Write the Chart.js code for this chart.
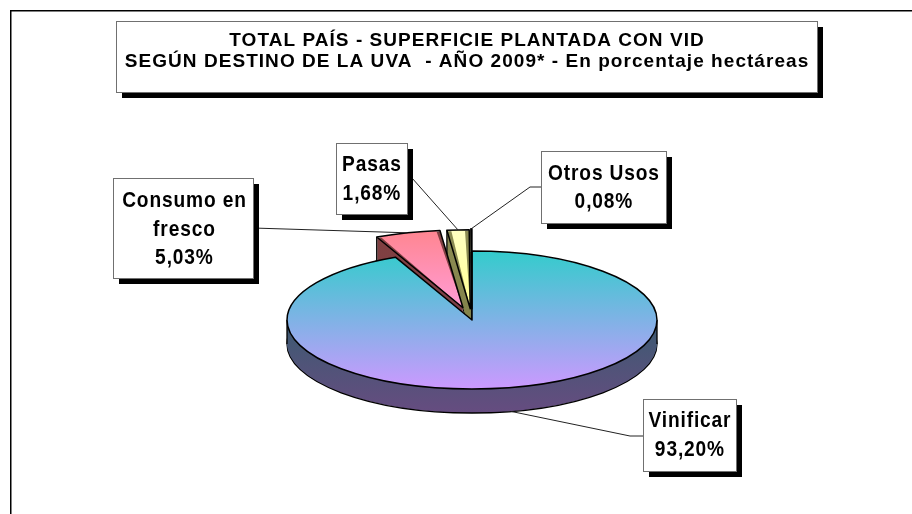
<!DOCTYPE html>
<html>
<head>
<meta charset="utf-8">
<script src="https://cdn.jsdelivr.net/npm/chart.js@4.4.1/dist/chart.umd.min.js"></script>
<style>
  html, body { margin: 0; padding: 0; background: #fff; }
  #wrap { position: relative; width: 912px; height: 514px; }
</style>
</head>
<body>
<div id="wrap"><canvas id="canvas" width="912" height="514"></canvas></div>
<script>
'use strict'

// data
const titleLines = ['TOTAL PAÍS - SUPERFICIE PLANTADA CON VID', 'SEGÚN DESTINO DE LA UVA  - AÑO 2009* - En porcentaje hectáreas']
const categories = ['Vinificar', 'Consumo en fresco', 'Pasas', 'Otros Usos']
const labelNames = [['Vinificar'], ['Consumo en', 'fresco'], ['Pasas'], ['Otros Usos']]
const shares = [93.20, 5.03, 1.68, 0.08]

const FONT = '"Liberation Sans", Arial, sans-serif'
const SQUASH = 69 / 185 // vertical tilt of the pie
const DEPTH = 24
const faceStops = [['#33CCCC', '#CC99FF'], ['#FF8080', '#FF99CC'], ['#FFFFCC', '#FFFF99'], ['#FFFFCC', '#FFFF99']]
const sideStops = [['#1A6666', '#664C80'], ['#804040', '#7A3E50'], ['#8C8C54', '#7A7A40'], ['#8C8C54', '#7A7A40']]

// label boxes: x, y, w, h, text centre, first baseline, elbow point and where the line meets the box
const labelBoxes = [
  { x: 643, y: 399, w: 93, h: 72, cx: 689.5, base: 427, elbow: [630, 436], end: [643, 436] },
  { x: 113, y: 178, w: 140, h: 100, cx: 184, base: 207, elbow: null, end: [253, 228] },
  { x: 336, y: 143, w: 71, h: 71, cx: 371.5, base: 171, elbow: [412, 178], end: [407, 178] },
  { x: 541, y: 151, w: 125, h: 72, cx: 603.5, base: 179.5, elbow: [530, 187], end: [541, 187] }
]

const pct = v => v.toFixed(2).replace('.', ',') + '%'

// same geometry Chart.js uses for an exploded arc, in screen space after the tilt
function sliceGeom (arc) {
  const p = arc.getProps(['x', 'y', 'startAngle', 'endAngle', 'outerRadius'], true)
  const off = (arc.options.offset || 0) / 4
  const circ = p.endAngle - p.startAngle
  const half = (p.startAngle + p.endAngle) / 2
  const fix = 1 - Math.sin(Math.min(Math.PI, circ))
  return {
    cx: p.x + Math.cos(half) * off,
    cy: p.y + Math.sin(half) * off * SQUASH,
    r: p.outerRadius + off * fix,
    a0: p.startAngle,
    a1: p.endAngle,
    mid: half
  }
}

function facePath (ctx, g, dy) {
  ctx.beginPath()
  ctx.moveTo(g.cx, g.cy + dy)
  ctx.ellipse(g.cx, g.cy + dy, g.r, g.r * SQUASH, 0, g.a0, g.a1)
  ctx.closePath()
}

function inRange (t, a0, a1) {
  while (t < a0) t += Math.PI * 2
  return t <= a1
}

function faceFill (c) {
  const chart = c.chart
  const area = chart.chartArea
  const stops = faceStops[c.dataIndex]
  if (!area) return stops[0]
  const cy = (area.top + area.bottom) / 2
  const span = c.dataIndex === 0 ? [cy - 185, cy + 185] : [cy - 255, cy - 30]
  const g = chart.ctx.createLinearGradient(0, span[0], 0, span[1])
  g.addColorStop(0, stops[0])
  g.addColorStop(1, stops[1])
  return g
}

const pie3d = {
  id: 'pie3d',
  beforeDatasetsDraw (chart) {
    const ctx = chart.ctx
    const arcs = chart.getDatasetMeta(0).data
    const y0 = arcs[0].y
    // walls first, back slices before the big front one
    arcs.map((a, i) => i).reverse().forEach(i => {
      const g = sliceGeom(arcs[i])
      const grad = ctx.createLinearGradient(0, g.cy - g.r * SQUASH, 0, g.cy + g.r * SQUASH + DEPTH)
      grad.addColorStop(0, sideStops[i][0])
      grad.addColorStop(1, sideStops[i][1])
      ctx.save()
      ctx.fillStyle = grad
      ctx.strokeStyle = '#000'
      ctx.lineWidth = 1.3
      facePath(ctx, g, DEPTH)
      ctx.fill()
      ctx.stroke()
      for (let d = DEPTH - 1; d >= 1; d--) {
        facePath(ctx, g, d)
        ctx.fill()
      }
      ctx.beginPath()
      ;[0, Math.PI].forEach(t => {
        if (inRange(t, g.a0, g.a1)) {
          const x = g.cx + g.r * Math.cos(t)
          ctx.moveTo(x, g.cy)
          ctx.lineTo(x, g.cy + DEPTH)
        }
      })
      if (Math.cos(g.a0) < -0.05) {
        const x = g.cx + g.r * Math.cos(g.a0)
        const y = g.cy + g.r * SQUASH * Math.sin(g.a0)
        ctx.moveTo(x, y)
        ctx.lineTo(x, y + DEPTH)
      }
      if (Math.cos(g.a1) > 0.05) {
        const x = g.cx + g.r * Math.cos(g.a1)
        const y = g.cy + g.r * SQUASH * Math.sin(g.a1)
        ctx.moveTo(x, y)
        ctx.lineTo(x, y + DEPTH)
      }
      ctx.stroke()
      ctx.restore()
    })
    // tilt the flat pie that Chart.js draws next
    ctx.save()
    ctx.translate(0, y0)
    ctx.scale(1, SQUASH)
    ctx.translate(0, -y0)
  },
  afterDatasetsDraw (chart) {
    const ctx = chart.ctx
    ctx.restore()
    chart.getDatasetMeta(0).data.forEach(arc => {
      const g = sliceGeom(arc)
      ctx.save()
      ctx.strokeStyle = '#000'
      ctx.lineWidth = 1.5
      ctx.lineJoin = 'round'
      facePath(ctx, g, 0)
      ctx.stroke()
      ctx.restore()
    })
  }
}

function drawText (ctx, str, x, y, size, sx, spacing) {
  ctx.save()
  ctx.font = `bold ${size}px ${FONT}`
  ctx.letterSpacing = spacing + 'px'
  ctx.textAlign = 'center'
  ctx.textBaseline = 'alphabetic'
  ctx.fillStyle = '#000'
  ctx.translate(x, y)
  ctx.scale(sx, 1)
  ctx.fillText(str, spacing / 2, 0)
  ctx.restore()
}

function drawBox (ctx, x, y, w, h) {
  ctx.fillStyle = '#000'
  ctx.fillRect(x + 6, y + 6, w, h)
  ctx.fillStyle = '#fff'
  ctx.fillRect(x, y, w, h)
  ctx.strokeStyle = '#707070'
  ctx.lineWidth = 1
  ctx.strokeRect(x + 0.5, y + 0.5, w, h)
}

const paper = {
  id: 'paper',
  beforeDraw (chart) {
    const ctx = chart.ctx
    ctx.save()
    ctx.fillStyle = '#fff'
    ctx.fillRect(0, 0, chart.width, chart.height)
    ctx.fillStyle = '#000'
    ctx.fillRect(10, 10, chart.width - 10, 1.5)
    ctx.fillRect(10, 10, 1.5, chart.height - 10)
    ctx.restore()
  },
  afterDraw (chart) {
    const ctx = chart.ctx
    const arcs = chart.getDatasetMeta(0).data
    ctx.save()
    // title
    drawBox(ctx, 116, 21, 701, 71)
    titleLines.forEach((line, i) => drawText(ctx, line, 466.5, 46 + i * 21, 19, 1, 1.05))
    // leader lines
    ctx.strokeStyle = '#222'
    ctx.lineWidth = 1
    arcs.forEach((arc, i) => {
      const g = sliceGeom(arc)
      const b = labelBoxes[i]
      const front = Math.sin(g.mid) > 0
      const ax = g.cx + g.r * Math.cos(g.mid)
      const ay = g.cy + g.r * SQUASH * Math.sin(g.mid) + (front ? DEPTH : 0)
      ctx.beginPath()
      ctx.moveTo(ax, ay)
      if (b.elbow) ctx.lineTo(b.elbow[0], b.elbow[1])
      ctx.lineTo(b.end[0], b.end[1])
      ctx.stroke()
    })
    // label boxes
    labelBoxes.forEach((b, i) => {
      drawBox(ctx, b.x, b.y, b.w, b.h)
      const lines = labelNames[i].concat(pct(shares[i]))
      lines.forEach((line, j) => drawText(ctx, line, b.cx, b.base + j * 28.7, 22, 0.87, 1))
    })
    ctx.restore()
  }
}

new Chart(document.getElementById('canvas'), {
  type: 'pie',
  data: {
    labels: categories,
    datasets: [{
      data: shares,
      offset: [0, 136, 120, 120],
      radius: 185,
      clip: false,
      borderWidth: 0,
      backgroundColor: faceFill
    }]
  },
  options: {
    responsive: false,
    animation: false,
    devicePixelRatio: 1,
    events: [],
    layout: { padding: { left: 272, right: 240, top: 130, bottom: 4 } },
    plugins: {
      legend: { display: false },
      tooltip: { enabled: false },
      title: { display: false }
    }
  },
  plugins: [paper, pie3d]
})
</script>
</body>
</html>
